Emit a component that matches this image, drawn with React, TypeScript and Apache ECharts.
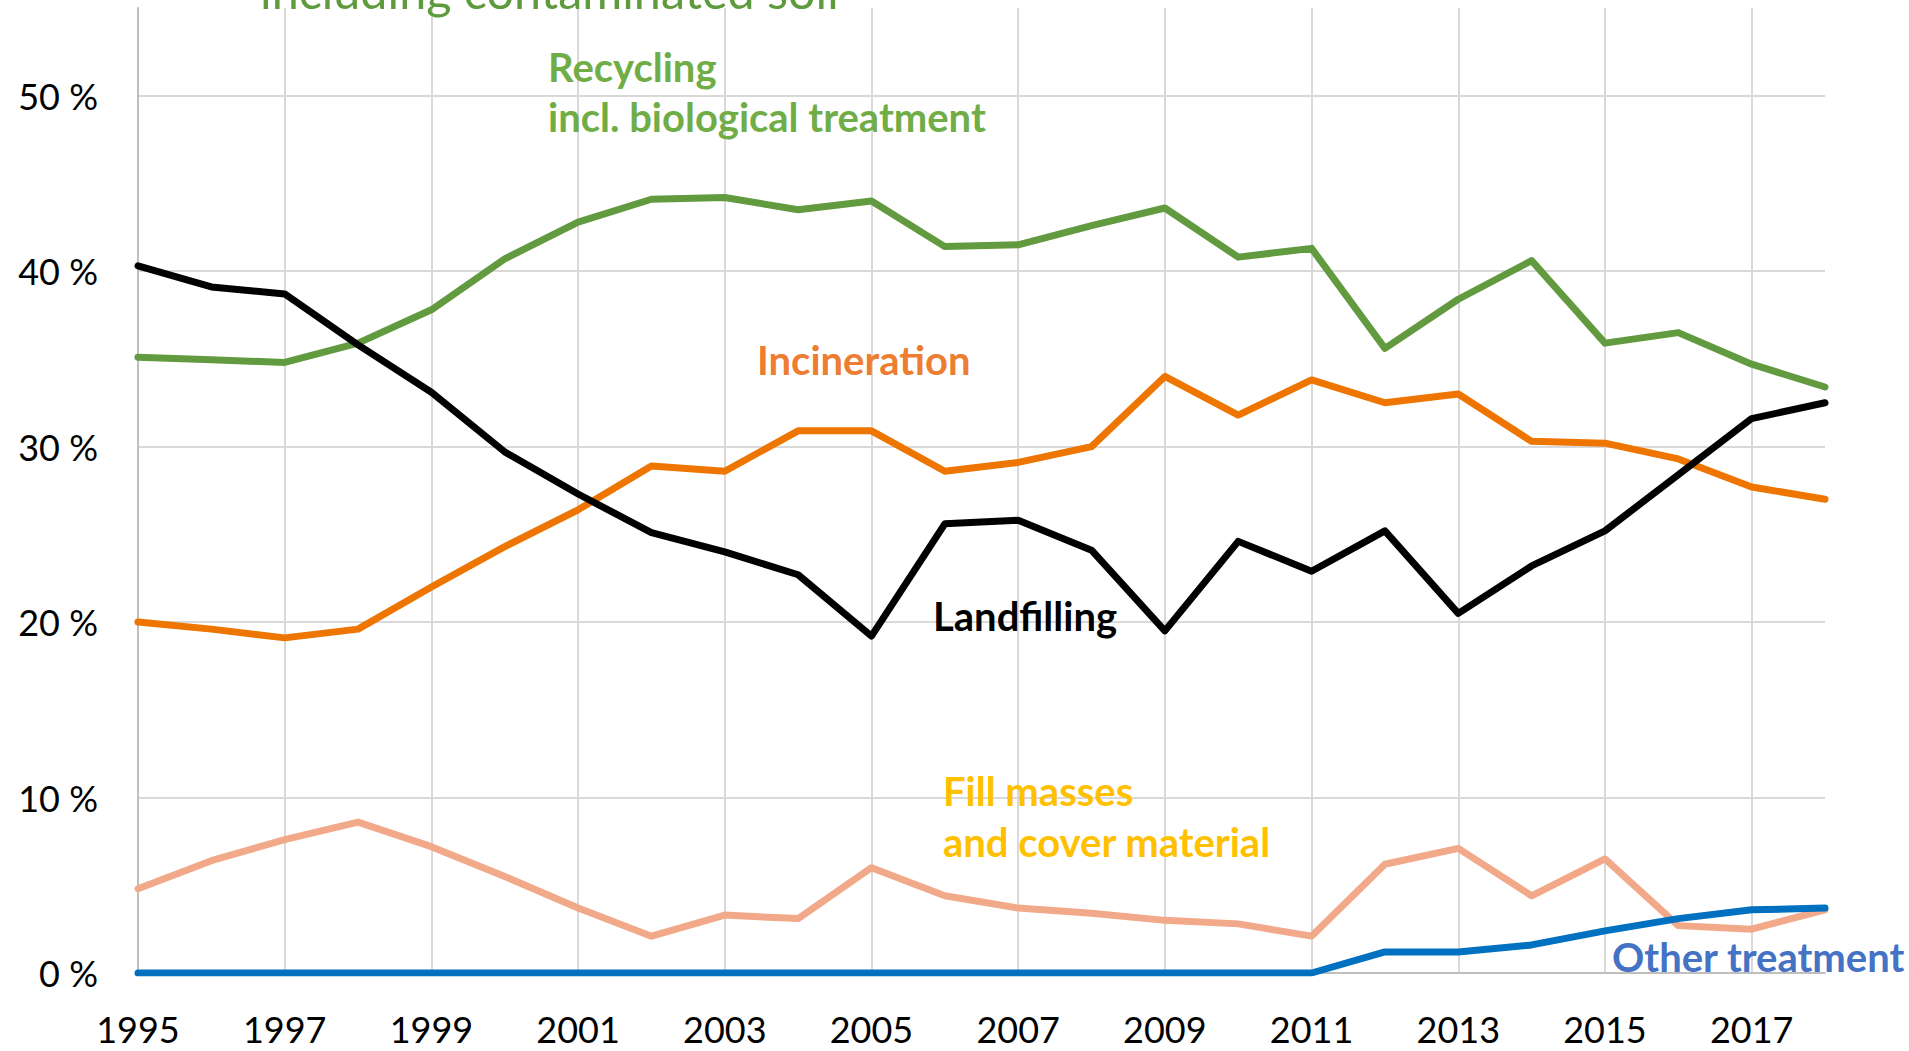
import React, { useEffect, useRef } from "react";
import * as echarts from "echarts";

const years = [
  "1995", "1996", "1997", "1998", "1999", "2000", "2001", "2002", "2003", "2004", "2005", "2006",
  "2007", "2008", "2009", "2010", "2011", "2012", "2013", "2014", "2015", "2016", "2017", "2018",
];

const recycling = [35.1, 34.95, 34.8, 35.9, 37.8, 40.7, 42.8, 44.1, 44.2, 43.5, 44.0, 41.4, 41.5, 42.6, 43.6, 40.8, 41.3, 35.6, 38.4, 40.6, 35.9, 36.5, 34.7, 33.4];
const incineration = [20.0, 19.6, 19.1, 19.6, 22.0, 24.3, 26.4, 28.9, 28.6, 30.9, 30.9, 28.6, 29.1, 30.0, 34.0, 31.8, 33.8, 32.5, 33.0, 30.3, 30.2, 29.3, 27.7, 27.0];
const landfilling = [40.3, 39.1, 38.7, 35.8, 33.1, 29.7, 27.3, 25.1, 24.0, 22.7, 19.2, 25.6, 25.8, 24.1, 19.5, 24.6, 22.9, 25.2, 20.5, 23.2, 25.2, 28.4, 31.6, 32.5];
const fillMasses = [4.8, 6.4, 7.6, 8.6, 7.2, 5.5, 3.7, 2.1, 3.3, 3.1, 6.0, 4.4, 3.7, 3.4, 3.0, 2.8, 2.1, 6.2, 7.1, 4.4, 6.5, 2.7, 2.5, 3.6];
const otherTreatment = [0, 0, 0, 0, 0, 0, 0, 0, 0, 0, 0, 0, 0, 0, 0, 0, 0, 1.2, 1.2, 1.6, 2.4, 3.1, 3.6, 3.7];

const yMin = 0;
const yMax = 55;
const yInterval = 10;

const FONT = "Lato, 'Open Sans', sans-serif";

export default function App() {
  const ref = useRef<HTMLDivElement>(null);

  useEffect(() => {
    document.body.style.margin = "0";
    if (!ref.current) return;
    const chart = echarts.init(ref.current, null, { renderer: "svg" });

    const lineSeries = (name: string, data: number[], color: string, width: number) => ({
      name,
      type: "line",
      data,
      symbol: "none",
      smooth: false,
      lineStyle: { color, width, cap: "round", join: "round" },
      itemStyle: { color },
    });

    const label = (text: string, x: number, y: number, color: string, size = 40, weight: any = "bold") => ({
      type: "text",
      x,
      y,
      silent: true,
      z: 100,
      style: {
        text,
        fill: color,
        font: `${weight} ${size}px ${FONT}`,
        textAlign: "left",
        textVerticalAlign: "middle",
      },
    });

    chart.setOption({
      animation: false,
      backgroundColor: "#ffffff",
      grid: { left: 138, right: 84, top: 8, bottom: 78, containLabel: false },
      xAxis: {
        type: "category",
        data: years,
        boundaryGap: false,
        axisLine: { show: true, lineStyle: { color: "#bfbfbf", width: 2 } },
        axisTick: { show: false },
        axisLabel: {
          interval: 1,
          margin: 38,
          color: "#000000",
          fontFamily: FONT,
          fontSize: 36,
        },
        splitLine: { show: true, interval: 1, lineStyle: { color: "#d9d9d9", width: 2 } },
      },
      yAxis: {
        type: "value",
        min: yMin,
        max: yMax,
        interval: yInterval,
        axisLine: { show: true, lineStyle: { color: "#bfbfbf", width: 2 } },
        axisTick: { show: false },
        axisLabel: {
          margin: 40,
          color: "#000000",
          fontFamily: FONT,
          fontSize: 36,
          showMaxLabel: false,
          formatter: (v: number) => (v % yInterval === 0 ? `${v} %` : ""),
        },
        splitLine: { show: true, showMaxLine: false, lineStyle: { color: "#d9d9d9", width: 2 } },
      },
      series: [
        lineSeries("Recycling incl. biological treatment", recycling, "#629b3f", 7),
        lineSeries("Incineration", incineration, "#ed7500", 7),
        lineSeries("Landfilling", landfilling, "#000000", 7),
        lineSeries("Fill masses and cover material", fillMasses, "#f2a98a", 7),
        lineSeries("Other treatment", otherTreatment, "#0070c0", 7),
      ],
      graphic: [
        label("including contaminated soil", 260, -10, "#5e9b3c", 48.5, "normal"),
        label("Recycling", 548, 67, "#70ad47"),
        label("incl. biological treatment", 548, 117, "#70ad47"),
        label("Incineration", 757, 360, "#ed7d31"),
        label("Landfilling", 933, 616, "#000000"),
        label("Fill masses", 943, 791, "#ffc000"),
        label("and cover material", 943, 842, "#ffc000"),
        label("Other treatment", 1612, 957, "#4472c4"),
      ],
    });

    return () => chart.dispose();
  }, []);

  return (
    <div
      ref={ref}
      style={{ position: "fixed", left: 0, top: 0, width: 1909, height: 1051, background: "#fff" }}
    />
  );
}
